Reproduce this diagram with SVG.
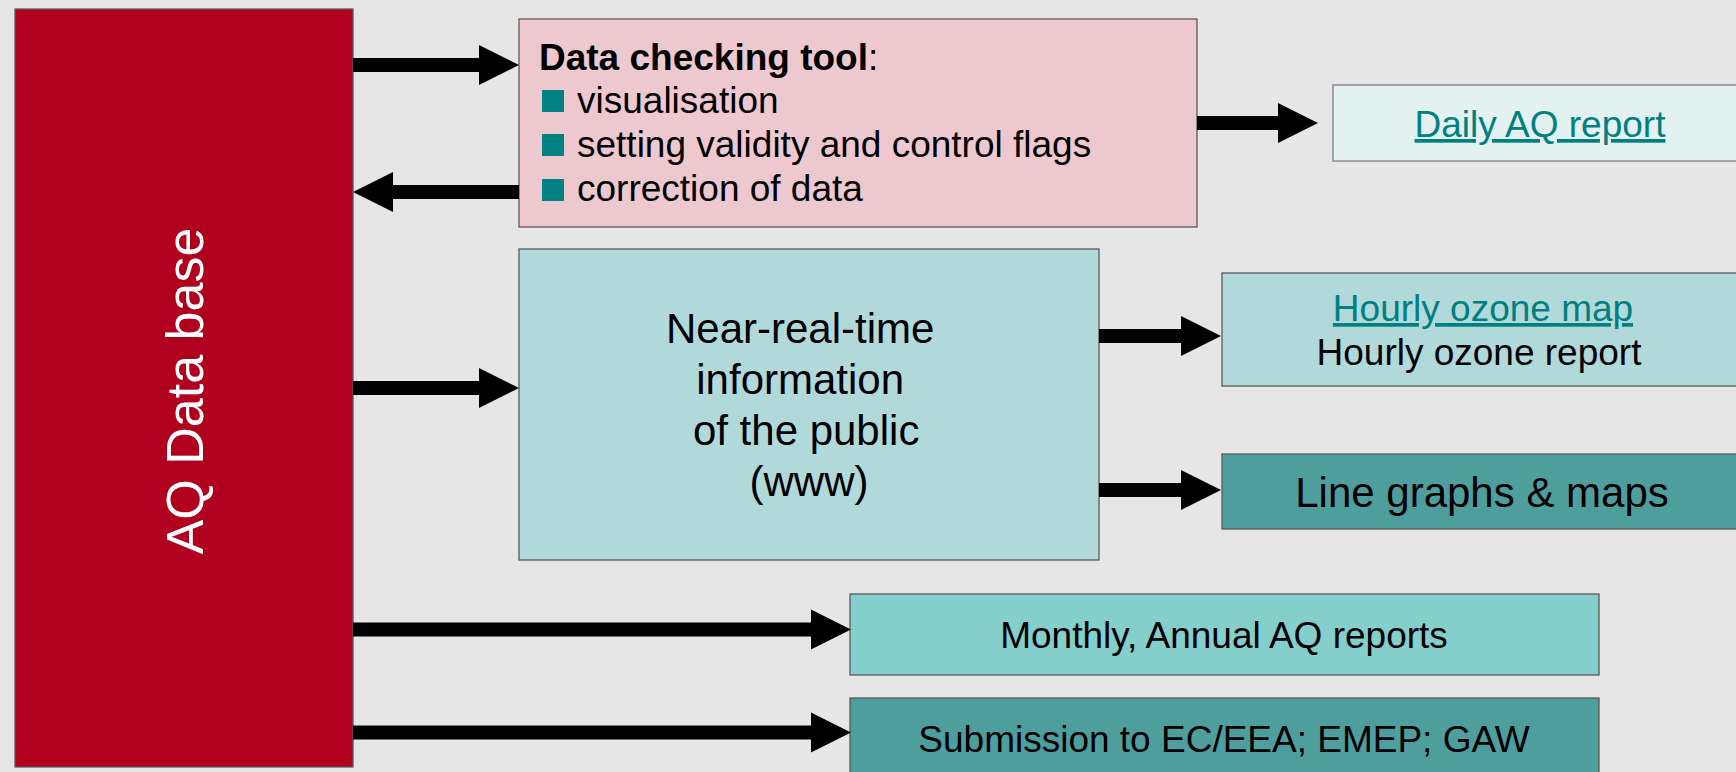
<svg xmlns="http://www.w3.org/2000/svg" width="1736" height="772" viewBox="0 0 1736 772">
<defs>
<style>
.t{font-family:"Liberation Sans",Arial,sans-serif;fill:#000}
.box{stroke:#5a5a5a;stroke-width:1.3}
.link{fill:#008080;text-decoration:underline}
.arr{stroke:#000;stroke-width:14;fill:none}
.bul{fill:#008080}
</style>
<marker id="ah" markerUnits="userSpaceOnUse" markerWidth="40" markerHeight="40" refX="0" refY="20" orient="auto" overflow="visible">
<path d="M0,0 L40,20 L0,40 Z" fill="#000"/>
</marker>
</defs>
<rect width="1736" height="772" fill="#e6e6e6"/>

<g id="aq-database">
<rect class="box" x="15" y="9" width="338" height="758" fill="#b0001e"/>
<text class="t" transform="translate(203,391) rotate(-90)" text-anchor="middle" font-size="52" style="fill:#fff">AQ Data base</text>
</g>

<g id="data-checking-tool">
<rect class="box" x="519" y="19" width="678" height="208" fill="#edc9cf"/>
<text class="t" x="539" y="70" font-size="37"><tspan font-weight="bold">Data checking tool</tspan>:</text>
<rect class="bul" x="542" y="90" width="22" height="22"/>
<text class="t" x="577" y="113" font-size="37">visualisation</text>
<rect class="bul" x="542" y="134" width="22" height="22"/>
<text class="t" x="577" y="157" font-size="37">setting validity and control flags</text>
<rect class="bul" x="542" y="179" width="22" height="22"/>
<text class="t" x="577" y="201" font-size="37">correction of data</text>
</g>

<g id="daily-aq-report">
<rect x="1333" y="85" width="420" height="76" fill="#e3f1f1" stroke="#7f7f7f" stroke-width="1.3"/>
<text class="t link" x="1540" y="137" font-size="37" text-anchor="middle">Daily AQ report</text>
</g>

<g id="near-real-time">
<rect class="box" x="519" y="249" width="580" height="311" fill="#b2d9d9"/>
<text class="t" font-size="42" text-anchor="middle">
<tspan x="806" y="343">Near-real-time</tspan>
<tspan x="806" y="394">information</tspan>
<tspan x="812" y="445">of the public</tspan>
<tspan x="809" y="496">(www)</tspan>
</text>
</g>

<g id="hourly-ozone">
<rect class="box" x="1222" y="273" width="520" height="113" fill="#b2d9d9"/>
<text class="t link" x="1483" y="321" font-size="37" text-anchor="middle">Hourly ozone map</text>
<text class="t" x="1479" y="365" font-size="37" text-anchor="middle">Hourly ozone report</text>
</g>

<g id="line-graphs">
<rect class="box" x="1222" y="454" width="520" height="75" fill="#4f9e9e"/>
<text class="t" x="1482" y="507" font-size="42" text-anchor="middle">Line graphs &amp; maps</text>
</g>

<g id="monthly-annual">
<rect class="box" x="850" y="594" width="749" height="81" fill="#84cecc"/>
<text class="t" x="1224" y="648" font-size="37" text-anchor="middle">Monthly, Annual AQ reports</text>
</g>

<g id="submission">
<rect class="box" x="850" y="698" width="749" height="80" fill="#4f9e9e"/>
<text class="t" x="1224" y="752" font-size="37" text-anchor="middle">Submission to EC/EEA; EMEP; GAW</text>
</g>

<g id="connectors">
<line class="arr" x1="353" y1="65" x2="479" y2="65" marker-end="url(#ah)"/>
<line class="arr" x1="519" y1="192" x2="393" y2="192" marker-end="url(#ah)"/>
<line class="arr" x1="353" y1="388" x2="479" y2="388" marker-end="url(#ah)"/>
<line class="arr" x1="1197" y1="123" x2="1278" y2="123" marker-end="url(#ah)"/>
<line class="arr" x1="1099" y1="336" x2="1181" y2="336" marker-end="url(#ah)"/>
<line class="arr" x1="1099" y1="490" x2="1181" y2="490" marker-end="url(#ah)"/>
<line class="arr" x1="353" y1="629.5" x2="811" y2="629.5" marker-end="url(#ah)"/>
<line class="arr" x1="353" y1="732.5" x2="811" y2="732.5" marker-end="url(#ah)"/>
</g>
</svg>
